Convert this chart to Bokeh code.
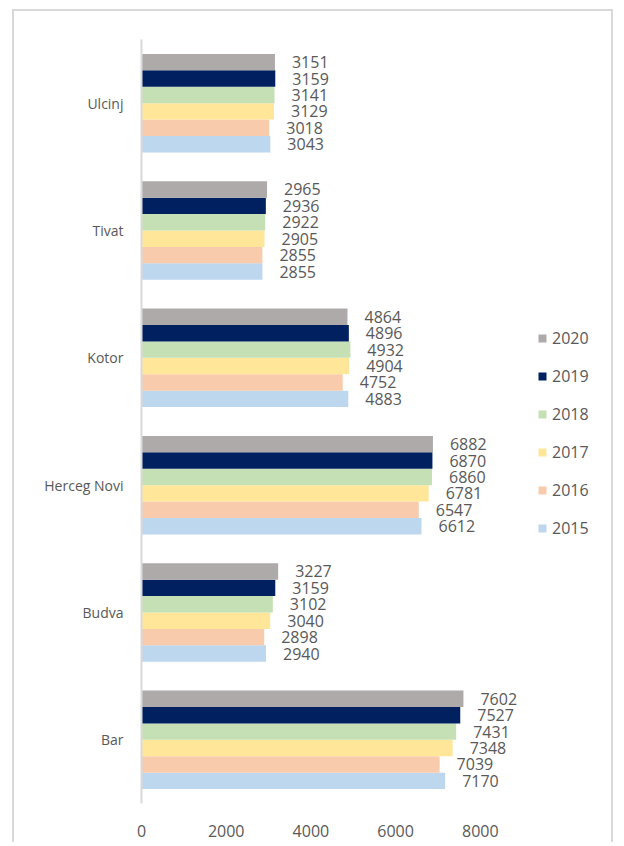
from bokeh.plotting import figure
from bokeh.models import ColumnDataSource, FixedTicker, Legend, LegendItem, Range1d, FactorRange
from bokeh.transform import dodge
from bokeh.core.properties import value
from bokeh.embed import file_html
from bokeh.resources import INLINE

cities = ["Bar", "Budva", "Herceg Novi", "Kotor", "Tivat", "Ulcinj"]
years = ["2015", "2016", "2017", "2018", "2019", "2020"]
v2015 = [7170, 2940, 6612, 4883, 2855, 3043]
v2016 = [7039, 2898, 6547, 4752, 2855, 3018]
v2017 = [7348, 3040, 6781, 4904, 2905, 3129]
v2018 = [7431, 3102, 6860, 4932, 2922, 3141]
v2019 = [7527, 3159, 6870, 4896, 2936, 3159]
v2020 = [7602, 3227, 6882, 4864, 2965, 3151]
series = [v2015, v2016, v2017, v2018, v2019, v2020]
colors = ["#BDD7EE", "#F8CBAD", "#FFE699", "#C5E0B4", "#002060", "#AEAAAA"]
x_ticks = [0, 2000, 4000, 6000, 8000]

FONT = "Open Sans"
TXT = "#595959"

data = {"city": cities}
for y, vals in zip(years, series):
    data["y" + y] = vals
    data["l" + y] = [str(v) for v in vals]
src = ColumnDataSource(data)

p = figure(width=601, height=833, y_range=FactorRange(*cities), x_range=Range1d(0, 10815),
           output_backend="svg", toolbar_location=None,
           min_border_left=127, min_border_right=16, min_border_top=28, min_border_bottom=41)
p.styles = {"border-top": "2px solid #D9D9D9", "border-left": "2px solid #D9D9D9",
            "border-right": "2px solid #D9D9D9", "margin-left": "12px", "margin-top": "9px"}

bh = 0.129
items = []
for i, y in enumerate(years):
    off = (i - 2.5) * bh
    r = p.hbar(y=dodge("city", off, range=p.y_range), right="y" + y, left=0, height=bh,
               source=src, fill_color=colors[i], line_color=None)
    p.text(x="y" + y, y=dodge("city", off, range=p.y_range), text="l" + y, source=src,
           x_offset=17, text_align="left", text_baseline="middle",
           text_font=value(FONT), text_font_size="16px", text_color=TXT)
    items.append(LegendItem(label=y, renderers=[r]))

legend = Legend(items=list(reversed(items)), location=(396, 264),
                glyph_width=10, glyph_height=10, label_height=20, spacing=16,
                label_standoff=5, padding=0, margin=0,
                label_text_font=FONT, label_text_font_size="16px", label_text_color=TXT,
                border_line_color=None, background_fill_alpha=0)
p.add_layout(legend)

p.xgrid.visible = False
p.ygrid.visible = False
p.outline_line_color = None

p.xaxis.ticker = FixedTicker(ticks=x_ticks)
p.xaxis.axis_line_color = None
p.xaxis.major_tick_line_color = None
p.xaxis.minor_tick_line_color = None
p.xaxis.major_label_standoff = 15
p.xaxis.major_label_text_font = FONT
p.xaxis.major_label_text_font_size = "16px"
p.xaxis.major_label_text_color = TXT

p.yaxis.axis_line_color = "#D9D9D9"
p.yaxis.axis_line_width = 2
p.yaxis.major_tick_line_color = None
p.yaxis.minor_tick_line_color = None
p.yaxis.major_label_standoff = 12
p.yaxis.major_label_text_font = FONT
p.yaxis.major_label_text_font_size = "14px"
p.yaxis.major_label_text_color = TXT

open("out.html", "w").write(file_html(p, INLINE))
